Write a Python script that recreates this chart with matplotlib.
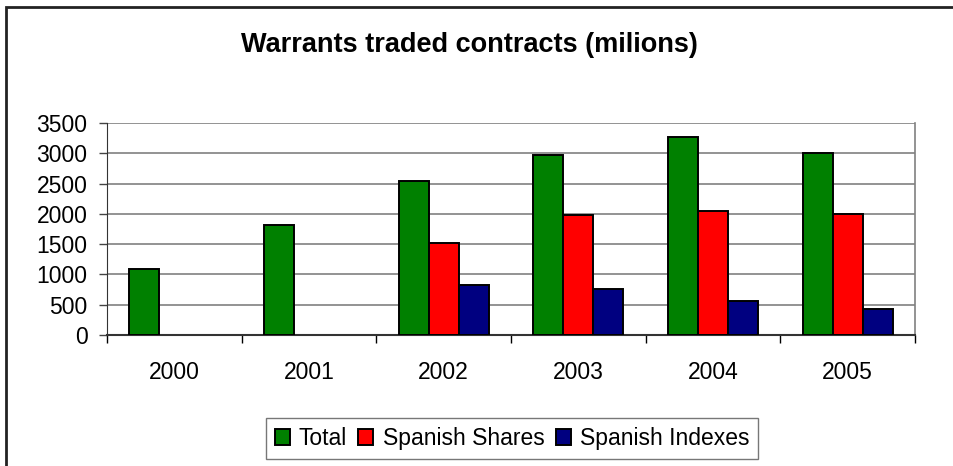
import matplotlib
matplotlib.use("Agg")
import matplotlib.pyplot as plt
import numpy as np
from matplotlib.patches import Rectangle

plt.rcParams['font.family'] = ['Liberation Sans', 'DejaVu Sans']

years = ["2000", "2001", "2002", "2003", "2004", "2005"]
total = [1090, 1810, 2540, 2970, 3270, 3000]
spanish_shares = [None, None, 1520, 1980, 2040, 2000]
spanish_indexes = [None, None, 830, 760, 560, 430]
series_names = ["Total", "Spanish Shares", "Spanish Indexes"]
colors = ["#008000", "#FF0000", "#000080"]
yticks = [0, 500, 1000, 1500, 2000, 2500, 3000, 3500]

W, H = 954, 466
fig = plt.figure(figsize=(W / 100, H / 100), dpi=100)
ax = fig.add_axes([107 / W, 1 - 335 / H, (915 - 107) / W, (335 - 123) / H])

x = np.arange(len(years))
width = 1 / 4.5
for i, (vals, name, c) in enumerate(zip([total, spanish_shares, spanish_indexes], series_names, colors)):
    v = np.array([np.nan if a is None else a for a in vals], dtype=float)
    ax.bar(x + (i - 1) * width, v, width, color=c, edgecolor="black",
           linewidth=1.4, label=name, zorder=3)

ax.set_xlim(-0.5, len(years) - 0.5)
ax.set_ylim(0, 3500)
ax.set_yticks(yticks)
ax.set_yticklabels([str(v) for v in yticks])
ax.yaxis.grid(True, color="#808080", linewidth=1.2, zorder=0)
ax.set_axisbelow(True)

fs = 16.5
ax.set_xticks(x)
ax.set_xticklabels(years)
ax.set_xticks(np.arange(len(years) + 1) - 0.5, minor=True)
ax.tick_params(axis="x", which="major", length=0, pad=19, labelsize=fs)
ax.tick_params(axis="x", which="minor", length=6, width=1, color="black", direction="out")
ax.tick_params(axis="y", length=6, width=1, color="#444444", pad=8, labelsize=fs)

ax.spines["left"].set_color("#333333")
ax.spines["bottom"].set_color("#333333")
ax.spines["bottom"].set_linewidth(1.5)
ax.spines["right"].set_color("#808080")
ax.spines["right"].set_linewidth(1.2)
ax.spines["top"].set_visible(False)

fig.text(469 / W, 1 - 52 / H, "Warrants traded contracts (milions)", ha="center",
         va="baseline", fontsize=19.5, fontweight="bold")

leg = fig.legend(loc="center", bbox_to_anchor=(512 / W, 1 - 438.5 / H), ncol=3,
                 fontsize=fs, frameon=True, fancybox=False, handlelength=0.65,
                 handleheight=0.65, handletextpad=0.4, columnspacing=0.5,
                 borderpad=0.4, borderaxespad=0)
leg.get_frame().set_edgecolor("#555555")
leg.get_frame().set_linewidth(1.0)

# outer chart frame (left and top edges visible)
fig.patches.append(Rectangle((6.5 / W, -0.1), 1.2, 1 - 6.5 / H + 0.1, transform=fig.transFigure,
                             fill=False, edgecolor="#222222", linewidth=2))

fig.savefig("out.png", dpi=100)
